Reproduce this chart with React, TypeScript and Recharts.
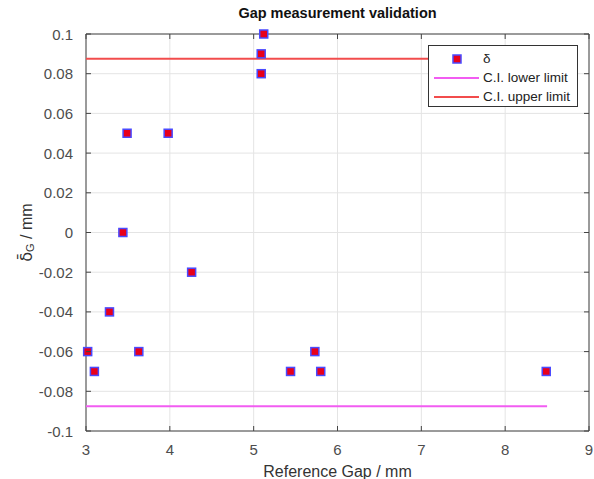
import React from "react";
import {
  ScatterChart, Scatter, XAxis, YAxis, CartesianGrid, Label,
} from "recharts";

// reference gap (mm) and measured deviation (mm)
const gapX = [3.02, 3.1, 3.28, 3.44, 3.49, 3.63, 3.98, 4.26, 5.09, 5.09, 5.12, 5.44, 5.73, 5.8, 8.49];
const deltaY = [-0.06, -0.07, -0.04, 0, 0.05, -0.06, 0.05, -0.02, 0.08, 0.09, 0.1, -0.07, -0.06, -0.07, -0.07];

// confidence interval limits
const ciX = [3, 8.5];
const ciLower = -0.0875;
const ciUpper = 0.0875;

const xTicks = [3, 4, 5, 6, 7, 8, 9];
const yTicks = [-0.1, -0.08, -0.06, -0.04, -0.02, 0, 0.02, 0.04, 0.06, 0.08, 0.1];

const points = gapX.map((x, i) => ({ x, y: deltaY[i] }));
const lowerData = ciX.map((x) => ({ x, y: ciLower }));
const upperData = ciX.map((x) => ({ x, y: ciUpper }));

const FONT = "'Liberation Sans', Arial, Helvetica, sans-serif";
const AXIS = "#444";
const TICK = "#4d4d4d";
const RED = "#f24c4c";
const MAGENTA = "#f25cf2";
const TL = 5; // inward tick length
const GAP_X = 16;
const GAP_Y = 13;

const fmt = (v: number) => String(Number(v.toFixed(2)));

function SquareMarker({ cx, cy }: any) {
  if (cx == null || cy == null) return null;
  return <rect x={cx - 4} y={cy - 4} width={8} height={8} fill="#e8001a" stroke="#4a4aff" strokeWidth={1.5} />;
}

// tick label + inward tick mark (matlab style)
function BottomTick({ x, y, payload }: any) {
  const ay = y - GAP_X;
  return (
    <g>
      <line x1={x} x2={x} y1={ay} y2={ay - TL} stroke={AXIS} />
      <text x={x} y={ay + 18} textAnchor="middle" dominantBaseline="central" fill={TICK} fontSize={15} fontFamily={FONT}>
        {fmt(payload.value)}
      </text>
    </g>
  );
}

function LeftTick({ x, y, payload }: any) {
  const ax = x + GAP_Y;
  return (
    <g>
      <line x1={ax} x2={ax + TL} y1={y} y2={y} stroke={AXIS} />
      <text x={x} y={y} textAnchor="end" dominantBaseline="central" fill={TICK} fontSize={15} fontFamily={FONT}>
        {fmt(payload.value)}
      </text>
    </g>
  );
}

function TopTick({ x, y }: any) {
  return <line x1={x} x2={x} y1={y} y2={y + TL} stroke={AXIS} />;
}

function RightTick({ x, y }: any) {
  return <line x1={x} x2={x - TL} y1={y} y2={y} stroke={AXIS} />;
}

function YTitle({ viewBox }: any) {
  const cx = viewBox.x + 26;
  const cy = viewBox.y + viewBox.height / 2;
  return (
    <text x={cx} y={cy} transform={`rotate(-90 ${cx} ${cy})`} textAnchor="middle" dominantBaseline="central"
      fontFamily={FONT} fontSize={16} fill="#333">
      <tspan fontFamily="'DejaVu Sans', sans-serif">{"\u03B4\u0304"}</tspan>
      <tspan fontSize={11} dy={4}>G</tspan><tspan dy={-4}> / mm</tspan>
    </text>
  );
}

function LegendBox() {
  const rows = [
    { label: "\u03B4", kind: "marker" },
    { label: "C.I. lower limit", kind: "line", color: MAGENTA },
    { label: "C.I. upper limit", kind: "line", color: RED },
  ];
  return (
    <div style={{
      position: "absolute", left: 428, top: 45, width: 150, height: 62, background: "#fff",
      border: "1px solid #333", boxSizing: "border-box", fontFamily: FONT, fontSize: 13.5, color: "#222",
      padding: "3px 0 0 4px",
    }}>
      {rows.map((r) => (
        <div key={r.label} style={{ display: "flex", alignItems: "center", height: 19 }}>
          <svg width={48} height={12}>
            {r.kind === "marker"
              ? <rect x={20} y={2} width={8} height={8} fill="#e8001a" stroke="#4a4aff" strokeWidth={1.5} />
              : <line x1={1} x2={46} y1={6} y2={6} stroke={r.color} strokeWidth={2} />}
          </svg>
          <span style={{ marginLeft: 2 }}>{r.label}</span>
        </div>
      ))}
    </div>
  );
}

export default function App() {
  return (
    <div style={{ position: "absolute", left: 0, top: 0, width: 594, height: 479, background: "#fff" }}>
      <div style={{
        position: "absolute", left: 86, width: 503, top: 5, textAlign: "center",
        fontFamily: FONT, fontWeight: "bold", fontSize: 14.5, color: "#111",
      }}>
        Gap measurement validation
      </div>
      <ScatterChart width={594} height={479} margin={{ top: 33, right: 4, bottom: 0, left: 0 }}>
        <CartesianGrid stroke="#e4e4e4" strokeWidth={1} />
        <XAxis type="number" dataKey="x" domain={[3, 9]} ticks={xTicks}
          height={48} stroke={AXIS} tickSize={0} tickMargin={GAP_X} tick={<BottomTick />}>
          <Label value="Reference Gap / mm" position="insideBottom" offset={2}
            style={{ fill: "#333", fontSize: 16, fontFamily: FONT }} />
        </XAxis>
        <XAxis xAxisId="top" orientation="top" type="number" dataKey="x" domain={[3, 9]} ticks={xTicks}
          height={1} stroke={AXIS} tickSize={0} tickMargin={0} tick={<TopTick />} />
        <YAxis type="number" dataKey="y" domain={[-0.1, 0.1]} ticks={yTicks}
          width={86} stroke={AXIS} tickSize={0} tickMargin={GAP_Y} tick={<LeftTick />}>
          <Label content={<YTitle />} />
        </YAxis>
        <YAxis yAxisId="right" orientation="right" type="number" dataKey="y" domain={[-0.1, 0.1]} ticks={yTicks}
          width={1} stroke={AXIS} tickSize={0} tickMargin={0} tick={<RightTick />} />
        <Scatter data={upperData} line={{ stroke: RED, strokeWidth: 2 }} shape={() => null} isAnimationActive={false} />
        <Scatter data={lowerData} line={{ stroke: MAGENTA, strokeWidth: 2 }} shape={() => null} isAnimationActive={false} />
        <Scatter data={points} shape={<SquareMarker />} isAnimationActive={false} />
        {/* invisible copy so the box axes on top/right get drawn */}
        <Scatter xAxisId="top" yAxisId="right" data={points} shape={() => null} isAnimationActive={false} />
      </ScatterChart>
      <LegendBox />
    </div>
  );
}
